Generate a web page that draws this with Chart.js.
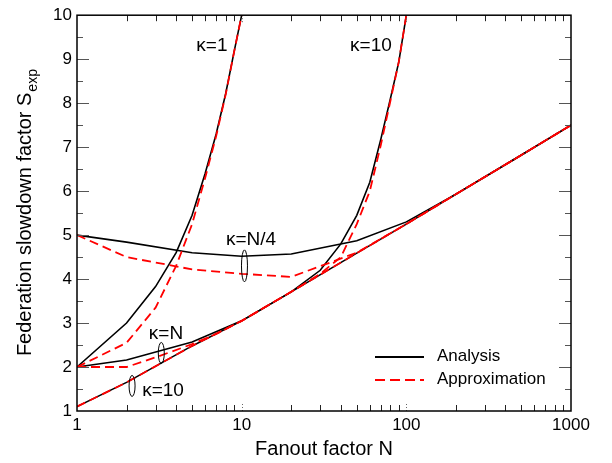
<!DOCTYPE html>
<html>
<head>
<meta charset="utf-8">
<script src="https://cdn.jsdelivr.net/npm/chart.js@4/dist/chart.umd.min.js"></script>
<style>
  html, body { margin: 0; padding: 0; background: #fff; }
  #chart { display: block; }
</style>
</head>
<body>
<canvas id="chart" width="612" height="463"></canvas>
<script>
const FONT = "'Liberation Sans', Arial, Helvetica, sans-serif";

// kappa = 1
const nK1 = [1, 2, 3, 4, 5, 6, 7, 8, 9, 10];
const k1Analysis = [2.0, 3.0, 3.83, 4.6, 5.45, 6.4, 7.3, 8.22, 9.17, 10.0];
const k1Approx = [2.0, 2.55, 3.35, 4.3, 5.25, 6.3, 7.25, 8.2, 9.17, 10.0];

// kappa = 10
const nK10 = [1, 2, 5, 10, 20, 30, 40, 50, 60, 70, 80, 90, 100];
const k10Analysis = [1.1, 1.65, 2.48, 3.05, 3.71, 4.2, 4.8, 5.45, 6.2, 7.18, 8.1, 8.94, 10.0];
const k10Approx = [1.1, 1.65, 2.48, 3.05, 3.71, 4.12, 4.5, 5.25, 6.0, 7.05, 8.05, 8.94, 10.0];

// kappa = N/4
const nQuarter = [1, 2, 5, 10, 20, 50, 100, 200, 500, 1000];
const quarterAnalysis = [5.0, 4.84, 4.6, 4.52, 4.57, 4.87, 5.3, 5.93, 6.82, 7.5];
const quarterApprox = [5.0, 4.5, 4.22, 4.12, 4.05, 4.6, 5.25, 5.93, 6.82, 7.5];

// kappa = N
const nKN = [1, 2, 5, 10, 20, 50, 100, 200, 500, 1000];
const kNAnalysis = [2.0, 2.16, 2.57, 3.05, 3.71, 4.59, 5.25, 5.93, 6.82, 7.5];
const nKNApprox = [1, 2, 3, 5, 7, 10, 20, 50, 100, 200, 500, 1000];
const kNApprox = [2.0, 2.0, 2.22, 2.52, 2.75, 3.05, 3.71, 4.59, 5.25, 5.93, 6.82, 7.5];

const xTicks = [1, 10, 100, 1000];
const yTicks = [1, 2, 3, 4, 5, 6, 7, 8, 9, 10];

// curve labels, anchored in data units (N, S)
const curveLabels = [
  { text: "κ=1", n: 6.6, s: 9.3 },
  { text: "κ=10", n: 61, s: 9.3 },
  { text: "κ=N/4", n: 11.4, s: 4.9 },
  { text: "κ=N", n: 3.47, s: 2.75 },
  { text: "κ=10", n: 3.33, s: 1.46 }
];
const ellipses = [
  { n: 10.4, s: 4.3, ry: 16 },
  { n: 3.25, s: 2.32, ry: 10.5 },
  { n: 2.16, s: 1.57, ry: 10.5 }
];

function pts(xs, ys) {
  return xs.map((x, i) => ({ x, y: ys[i] }));
}

const RED = "#ff0000";
const approxStyle = { borderColor: RED, borderWidth: 1.8, borderDash: [9, 5] };
const analysisStyle = { borderColor: "#000", borderWidth: 1.6 };

// first datasets are drawn on top, so red comes first
const datasets = [
  { label: "Approximation", data: pts(nK1, k1Approx), ...approxStyle },
  { label: "Approximation", data: pts(nK10, k10Approx), ...approxStyle },
  { label: "Approximation", data: pts(nQuarter, quarterApprox), ...approxStyle },
  { label: "Approximation", data: pts(nKNApprox, kNApprox), ...approxStyle },
  { label: "Analysis", data: pts(nK1, k1Analysis), ...analysisStyle },
  { label: "Analysis", data: pts(nK10, k10Analysis), ...analysisStyle },
  { label: "Analysis", data: pts(nQuarter, quarterAnalysis), ...analysisStyle },
  { label: "Analysis", data: pts(nKN, kNAnalysis), ...analysisStyle }
];

function seg(ctx, x1, y1, x2, y2) {
  ctx.beginPath();
  ctx.moveTo(x1, y1);
  ctx.lineTo(x2, y2);
  ctx.stroke();
}

const decorations = {
  id: "decorations",
  afterDraw(chart) {
    const { ctx, chartArea: a, scales: { x, y } } = chart;
    ctx.save();

    // y ticks, inside, left and right
    ctx.strokeStyle = "#555";
    ctx.lineWidth = 1;
    for (let v = 1.5; v < 10; v += 0.5) {
      const py = Math.round(y.getPixelForValue(v)) + 0.5;
      const len = Number.isInteger(v) ? 12 : 6;
      seg(ctx, a.left, py, a.left + len, py);
      seg(ctx, a.right - len, py, a.right, py);
    }

    // x ticks, inside, bottom and top
    ctx.strokeStyle = "#222";
    for (let d = 1; d < 1000; d *= 10) {
      for (let m = 2; m <= 9; m++) {
        const px = Math.round(x.getPixelForValue(m * d)) + 0.5;
        seg(ctx, px, a.bottom, px, a.bottom - 6);
        seg(ctx, px, a.top, px, a.top + 6);
      }
    }
    ctx.setLineDash([1, 2]);
    ctx.strokeStyle = "#666";
    [10, 100].forEach((v) => {
      const px = Math.round(x.getPixelForValue(v)) + 0.5;
      seg(ctx, px, a.bottom, px, a.bottom - 9);
      seg(ctx, px, a.top, px, a.top + 9);
    });
    ctx.setLineDash([]);

    // frame
    ctx.strokeStyle = "#000";
    ctx.lineWidth = 1.5;
    ctx.strokeRect(a.left, a.top, a.right - a.left, a.bottom - a.top);

    // curve labels
    ctx.fillStyle = "#000";
    ctx.font = "19px " + FONT;
    ctx.textAlign = "center";
    ctx.textBaseline = "middle";
    curveLabels.forEach((l) => {
      ctx.fillText(l.text, x.getPixelForValue(l.n), y.getPixelForValue(l.s));
    });

    // ellipses
    ctx.lineWidth = 1;
    ellipses.forEach((e) => {
      ctx.beginPath();
      ctx.ellipse(x.getPixelForValue(e.n), y.getPixelForValue(e.s), 3, e.ry, 0, 0, Math.PI * 2);
      ctx.stroke();
    });

    // legend
    const lx = a.right - 196;
    const ly1 = a.bottom - 54;
    const ly2 = a.bottom - 31;
    ctx.strokeStyle = "#000";
    ctx.lineWidth = 1.8;
    seg(ctx, lx, ly1, lx + 49, ly1);
    ctx.strokeStyle = RED;
    ctx.setLineDash([10, 5]);
    seg(ctx, lx, ly2, lx + 49, ly2);
    ctx.setLineDash([]);
    ctx.font = "17px " + FONT;
    ctx.textAlign = "left";
    ctx.fillText("Analysis", lx + 62, ly1 - 1);
    ctx.fillText("Approximation", lx + 62, ly2 - 1);

    // axis titles
    ctx.font = "20px " + FONT;
    ctx.textAlign = "center";
    ctx.textBaseline = "alphabetic";
    ctx.fillText("Fanout factor N", (a.left + a.right) / 2, 455);

    ctx.save();
    ctx.translate(31, (a.top + a.bottom) / 2);
    ctx.rotate(-Math.PI / 2);
    const main = "Federation slowdown factor S";
    ctx.font = "20px " + FONT;
    const wMain = ctx.measureText(main).width;
    ctx.font = "14px " + FONT;
    const wSub = ctx.measureText("exp").width;
    const start = -(wMain + wSub) / 2;
    ctx.textAlign = "left";
    ctx.font = "20px " + FONT;
    ctx.fillText(main, start, 0);
    ctx.font = "14px " + FONT;
    ctx.fillText("exp", start + wMain + 1, 6);
    ctx.restore();

    ctx.restore();
  }
};

Chart.defaults.font.family = FONT;
Chart.defaults.color = "#000";

new Chart(document.getElementById("chart"), {
  type: "line",
  data: { datasets },
  options: {
    responsive: false,
    animation: false,
    layout: { padding: { top: 10, right: 41, left: 0, bottom: 0 } },
    elements: { point: { radius: 0 }, line: { tension: 0 } },
    plugins: { legend: { display: false }, tooltip: { enabled: false } },
    scales: {
      x: {
        type: "logarithmic",
        min: 1,
        max: 1000,
        grid: { display: false, drawTicks: false },
        border: { display: false },
        afterBuildTicks: (scale) => {
          scale.ticks = xTicks.map((v) => ({ value: v }));
        },
        afterFit: (scale) => { scale.height = 52; },
        ticks: {
          padding: 4,
          maxRotation: 0,
          autoSkip: false,
          font: { size: 17 },
          callback: (v) => String(v)
        }
      },
      y: {
        type: "linear",
        min: 1,
        max: 10,
        grid: { display: false, drawTicks: false },
        border: { display: false },
        afterBuildTicks: (scale) => {
          scale.ticks = yTicks.map((v) => ({ value: v }));
        },
        afterFit: (scale) => { scale.width = 77; },
        ticks: {
          padding: 5,
          font: { size: 17 },
          callback: (v) => String(v)
        }
      }
    }
  },
  plugins: [decorations]
});
</script>
</body>
</html>
